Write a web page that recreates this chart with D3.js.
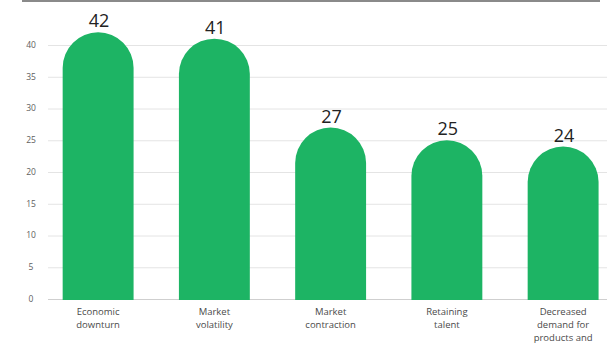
<!DOCTYPE html>
<html>
<head>
<meta charset="utf-8">
<script src="https://cdn.jsdelivr.net/npm/d3@7"></script>
<style>
  html, body { margin: 0; padding: 0; background: #fff; overflow: hidden; }
  svg { display: block; }
</style>
</head>
<body>
<svg id="chart" width="607" height="347"></svg>
<script>
// Top business concerns: count of respondents per concern
const categories = [
  "Economic downturn",
  "Market volatility",
  "Market contraction",
  "Retaining talent",
  "Decreased demand for products and"
];
const categoryLines = [
  ["Economic", "downturn"],
  ["Market", "volatility"],
  ["Market", "contraction"],
  ["Retaining", "talent"],
  ["Decreased", "demand for", "products and"]
];
const values = [42, 41, 27, 25, 24];
const yTicks = [0, 5, 10, 15, 20, 25, 30, 35, 40];

const svg = d3.select("#chart");
const W = 607, H = 347;
const green = "#1db464";

const x = d3.scaleBand()
  .domain(categories)
  .range([40, 621.25])
  .paddingInner(0.39)
  .paddingOuter(0.195);

const y = d3.scaleLinear()
  .domain([0, 40])
  .range([299, 45]);

// Frame line along the top
svg.append("line")
  .attr("x1", 22).attr("x2", 600)
  .attr("y1", 1).attr("y2", 1)
  .attr("stroke", "#8a8a8a")
  .attr("stroke-width", 2);

// Horizontal gridlines
svg.append("g")
  .selectAll("line")
  .data(yTicks)
  .join("line")
  .attr("x1", 48).attr("x2", W)
  .attr("y1", d => y(d) + 0.5).attr("y2", d => y(d) + 0.5)
  .attr("stroke", d => d === 0 ? "#cfcfcf" : "#e4e4e4")
  .attr("stroke-width", 1);

// Y tick labels
svg.append("g")
  .selectAll("text")
  .data(yTicks)
  .join("text")
  .attr("x", 31)
  .attr("y", d => y(d))
  .attr("dy", "0.35em")
  .attr("text-anchor", "middle")
  .attr("font-family", "'Open Sans', sans-serif")
  .attr("font-size", 8.5)
  .attr("fill", "#5e5e5e")
  .text(d => d);

// Bars with a semicircular cap; the cap top sits at the value
function capPath(d, i) {
  const x0 = x(categories[i]);
  const w = x.bandwidth();
  const r = w / 2;
  const top = y(d);
  const base = y(0) + 1;
  return `M${x0},${base} L${x0},${top + r} A${r},${r} 0 0 1 ${x0 + w},${top + r} L${x0 + w},${base} Z`;
}
svg.append("g")
  .selectAll("path")
  .data(values)
  .join("path")
  .attr("d", capPath)
  .attr("fill", green);

// Value labels above each bar
svg.append("g")
  .selectAll("text")
  .data(values)
  .join("text")
  .attr("x", (d, i) => x(categories[i]) + x.bandwidth() / 2 + 1)
  .attr("y", d => y(d) - 5)
  .attr("text-anchor", "middle")
  .attr("font-family", "'Open Sans', sans-serif")
  .attr("font-size", 18)
  .attr("fill", "#222")
  .text(d => d);

// Category labels under the axis
const labelG = svg.append("g");
categoryLines.forEach((lines, i) => {
  const cx = x(categories[i]) + x.bandwidth() / 2;
  const t = labelG.append("text")
    .attr("text-anchor", "middle")
    .attr("font-family", "'Open Sans', sans-serif")
    .attr("font-size", 9.5)
    .attr("fill", "#4a4a4a");
  lines.forEach((ln, j) => {
    t.append("tspan")
      .attr("x", cx)
      .attr("y", 315 + j * 13)
      .text(ln);
  });
});
</script>
</body>
</html>
